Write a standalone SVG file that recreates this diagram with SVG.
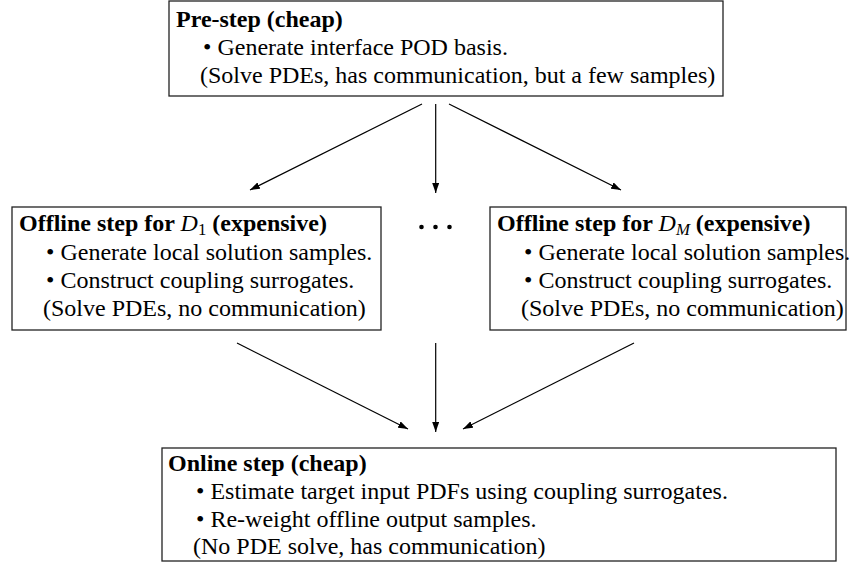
<svg xmlns="http://www.w3.org/2000/svg" width="850" height="562" viewBox="0 0 850 562">
<style>
.box{fill:#fff;stroke:#222;stroke-width:1.3}
text{font-family:"Liberation Serif","Times New Roman",serif;font-size:24px;fill:#000}
.b{font-weight:bold}
.m{font-style:italic;font-weight:normal}
.s{font-size:16.8px;font-weight:normal}
.c{stroke:#000;stroke-width:1.2;fill:none}
</style>
<defs>
<marker id="ah" viewBox="0 0 10 7" refX="10" refY="3.5" markerWidth="10" markerHeight="7" markerUnits="userSpaceOnUse" orient="auto">
<path d="M0,0 L10,3.5 L0,7 z" fill="#000"/>
</marker>
</defs>
<g id="connectors">
<line class="c" x1="422" y1="104" x2="250" y2="190" marker-end="url(#ah)"/>
<line class="c" x1="435.7" y1="104" x2="435.7" y2="193" marker-end="url(#ah)"/>
<line class="c" x1="449" y1="104" x2="621" y2="190" marker-end="url(#ah)"/>
<line class="c" x1="237" y1="343" x2="408" y2="429" marker-end="url(#ah)"/>
<line class="c" x1="435.7" y1="343" x2="435.7" y2="432" marker-end="url(#ah)"/>
<line class="c" x1="634" y1="343" x2="463" y2="429" marker-end="url(#ah)"/>
</g>
<g id="prestep">
<rect class="box" x="169" y="1" width="554" height="95"/>
<text class="b" x="176" y="27">Pre-step (cheap)</text>
<text x="203" y="55">• Generate interface POD basis.</text>
<text x="200" y="83">(Solve PDEs, has communication, but a few samples)</text>
</g>
<g id="offline1">
<rect class="box" x="12" y="207" width="369" height="123"/>
<text class="b" x="19" y="231">Offline step for <tspan class="m">D</tspan><tspan class="s" dy="4">1</tspan><tspan dy="-4"> (expensive)</tspan></text>
<text x="46" y="260">• Generate local solution samples.</text>
<text x="46" y="288">• Construct coupling surrogates.</text>
<text x="43" y="316">(Solve PDEs, no communication)</text>
</g>
<g id="ellipsis">
<circle cx="421.5" cy="227" r="2.3"/>
<circle cx="435.5" cy="227" r="2.3"/>
<circle cx="449.5" cy="227" r="2.3"/>
</g>
<g id="offlineM">
<rect class="box" x="490" y="207" width="356" height="123"/>
<text class="b" x="497" y="231">Offline step for <tspan class="m">D</tspan><tspan class="s m" dy="4">M</tspan><tspan dy="-4"> (expensive)</tspan></text>
<text x="524" y="260">• Generate local solution samples.</text>
<text x="524" y="288">• Construct coupling surrogates.</text>
<text x="521" y="316">(Solve PDEs, no communication)</text>
</g>
<g id="online">
<rect class="box" x="162" y="448" width="674" height="113"/>
<text class="b" x="168" y="471">Online step (cheap)</text>
<text x="196" y="499">• Estimate target input PDFs using coupling surrogates.</text>
<text x="196" y="527">• Re-weight offline output samples.</text>
<text x="193" y="554">(No PDE solve, has communication)</text>
</g>
</svg>
